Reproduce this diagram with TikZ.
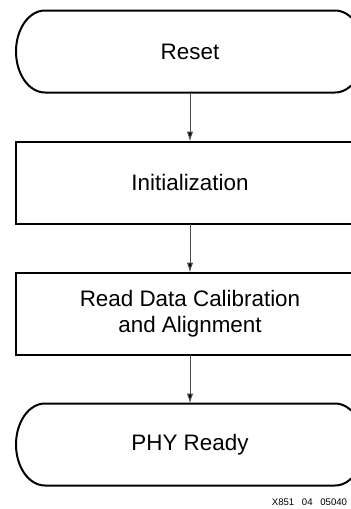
\documentclass[tikz,border=0pt]{standalone}
\usepackage{fontspec}
\setmainfont{Liberation Sans}
\usetikzlibrary{positioning,arrows.meta}

% outline of a start/end box, drawn round a named node
\newcommand\termoutline[1]{%
  \draw[line width=1pt] ([xshift=14.5pt]#1.north west) -- ([xshift=-14.5pt]#1.north east)
    arc[start angle=90, end angle=-90, x radius=14.5pt, y radius=20.5pt]
    -- ([xshift=14.5pt]#1.south west)
    arc[start angle=270, end angle=90, x radius=14.5pt, y radius=20.5pt] -- cycle;}

\begin{document}
\begin{tikzpicture}[
   x=0.5pt, y=-0.5pt,
   node distance=24.5pt,
   every node/.style={font=\fontsize{11.2}{13}\selectfont, align=center},
   stepbox/.style={draw, line width=1pt, minimum width=174pt, minimum height=41pt, inner sep=0pt, outer sep=0pt},
   termbox/.style={stepbox, draw=none},
   flow/.style={draw=black!70, line width=0.5pt, -{Latex[length=5pt,width=3.2pt,fill=black]}}]

\useasboundingbox (0,0) rectangle (351,509);

\node[termbox] (reset) at (190,51.5) {Reset};
\node[stepbox, below=of reset] (init) {Initialization};
\node[stepbox, below=of init] (calib) {Read Data Calibration\\and Alignment};
\node[termbox, below=of calib] (ready) {PHY Ready};

\termoutline{reset}
\termoutline{ready}

\draw[flow] (reset) -- (init);
\draw[flow] (init) -- (calib);
\draw[flow] (calib) -- (ready);

\node[anchor=base west, font=\fontsize{4.8}{5}\selectfont, inner sep=0pt] (figid) at (271.5,505.5) {X851\hspace{0.8em}04\hspace{0.8em}05040};

\end{tikzpicture}
\end{document}
